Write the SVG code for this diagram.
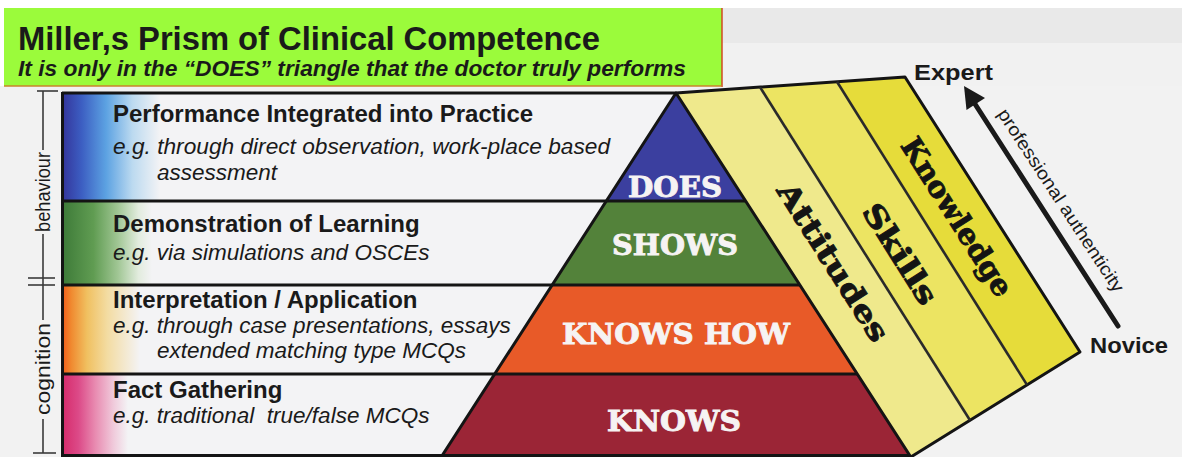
<svg xmlns="http://www.w3.org/2000/svg" width="1182" height="457" viewBox="0 0 1182 457">
  <defs>
    <style>
      .sans { font-family: "Liberation Sans", Arial, sans-serif; fill: #1a1a1a; }
      .head { font-weight: bold; font-size: 24px; }
      .note { font-style: italic; font-size: 22.5px; }
      .tier { font-family: "DejaVu Serif", "Liberation Serif", serif; font-weight: bold; font-size: 27px; fill: #f6f3f3; stroke: #f6f3f3; stroke-width: 0.9; text-anchor: middle; }
      .face { font-family: "DejaVu Serif", "Liberation Serif", serif; font-weight: bold; font-size: 29px; fill: #141414; stroke: #141414; stroke-width: 0.9; text-anchor: middle; }
      .rule { stroke: #141414; stroke-width: 3; fill: none; }
      .bracket { stroke: #3a3a3a; stroke-width: 1.6; fill: none; }
      .divider { stroke: #2a2a2a; stroke-width: 2.6; fill: none; }
    </style>
    <linearGradient id="gBlue" gradientUnits="userSpaceOnUse" x1="62" y1="0" x2="160" y2="0">
      <stop offset="0" stop-color="#34349a"/>
      <stop offset="0.2" stop-color="#3c5ec2"/>
      <stop offset="0.45" stop-color="#5ca2e2"/>
      <stop offset="0.72" stop-color="#bcdaf0"/>
      <stop offset="1" stop-color="#f3f3f5"/>
    </linearGradient>
    <linearGradient id="gGreen" gradientUnits="userSpaceOnUse" x1="62" y1="0" x2="152" y2="0">
      <stop offset="0" stop-color="#3d7a38"/>
      <stop offset="0.35" stop-color="#609c52"/>
      <stop offset="0.62" stop-color="#a0c694"/>
      <stop offset="0.85" stop-color="#e2ecde"/>
      <stop offset="1" stop-color="#f3f3f5"/>
    </linearGradient>
    <linearGradient id="gOrange" gradientUnits="userSpaceOnUse" x1="62" y1="0" x2="140" y2="0">
      <stop offset="0" stop-color="#f05a18"/>
      <stop offset="0.12" stop-color="#f08a30"/>
      <stop offset="0.32" stop-color="#f0c060"/>
      <stop offset="0.58" stop-color="#f3dca2"/>
      <stop offset="1" stop-color="#f3f3f5"/>
    </linearGradient>
    <linearGradient id="gPink" gradientUnits="userSpaceOnUse" x1="62" y1="0" x2="128" y2="0">
      <stop offset="0" stop-color="#d62a6a"/>
      <stop offset="0.25" stop-color="#dc4a88"/>
      <stop offset="0.5" stop-color="#e88ab0"/>
      <stop offset="0.78" stop-color="#f0cadb"/>
      <stop offset="1" stop-color="#f3f3f5"/>
    </linearGradient>
  </defs>

  <!-- page background -->
  <rect x="0" y="0" width="1182" height="457" fill="#ffffff"/>
  <rect x="0" y="86" width="1182" height="371" fill="#f2f2f2"/>
  <rect x="722" y="8" width="460" height="35" fill="#e9e9e9"/>
  <rect x="722" y="43" width="460" height="43" fill="#f1f1f1"/>

  <!-- title banner -->
  <g id="title">
    <rect x="4" y="8" width="718" height="78" fill="#9bfb3b"/>
    <line x1="722" y1="8" x2="722" y2="87" stroke="#d04a20" stroke-width="1.5"/>
    <line x1="4" y1="86" x2="722" y2="86" stroke="#c8842c" stroke-width="1.5"/>
    <text class="sans" x="18" y="50" font-size="34" font-weight="bold" textLength="582" lengthAdjust="spacingAndGlyphs">Miller,s Prism of Clinical Competence</text>
    <text class="sans" x="18" y="76" font-size="21.5" font-weight="bold" font-style="italic" textLength="668" lengthAdjust="spacingAndGlyphs">It is only in the “DOES” triangle that the doctor truly performs</text>
  </g>

  <!-- assessment rows -->
  <g id="row-performance">
    <polygon points="62,93 676,93 606.3,201 62,201" fill="#f3f3f5"/>
    <rect x="62" y="93" width="100" height="108" fill="url(#gBlue)"/>
    <text class="sans head" x="113" y="122">Performance Integrated into Practice</text>
    <text class="sans note" x="113" y="154" textLength="497" lengthAdjust="spacingAndGlyphs">e.g. through direct observation, work-place based</text>
    <text class="sans note" x="157" y="180">assessment</text>
  </g>
  <g id="row-demonstration">
    <polygon points="62,201 606.3,201 552.2,285 62,285" fill="#f3f3f5"/>
    <rect x="62" y="201" width="92" height="84" fill="url(#gGreen)"/>
    <text class="sans head" x="113" y="232">Demonstration of Learning</text>
    <text class="sans note" x="113" y="260">e.g. via simulations and OSCEs</text>
  </g>
  <g id="row-interpretation">
    <polygon points="62,285 552.2,285 494.8,374 62,374" fill="#f3f3f5"/>
    <rect x="62" y="285" width="80" height="89" fill="url(#gOrange)"/>
    <text class="sans head" x="113" y="308">Interpretation / Application</text>
    <text class="sans note" x="113" y="333">e.g. through case presentations, essays</text>
    <text class="sans note" x="157" y="358">extended matching type MCQs</text>
  </g>
  <g id="row-facts">
    <polygon points="62,374 494.8,374 441.2,457 62,457" fill="#f3f3f5"/>
    <rect x="62" y="374" width="68" height="83" fill="url(#gPink)"/>
    <text class="sans head" x="113" y="398">Fact Gathering</text>
    <text class="sans note" x="113" y="423" xml:space="preserve">e.g. traditional  true/false MCQs</text>
  </g>

  <!-- pyramid tiers -->
  <g id="tier-does">
    <polygon points="676,93 745.7,201 606.3,201" fill="#3b3f9f"/>
    <text class="tier" x="675" y="197" textLength="94" lengthAdjust="spacingAndGlyphs">DOES</text>
  </g>
  <g id="tier-shows">
    <polygon points="606.3,201 745.7,201 799.8,285 552.2,285" fill="#53823a"/>
    <text class="tier" x="675" y="255" textLength="126" lengthAdjust="spacingAndGlyphs">SHOWS</text>
  </g>
  <g id="tier-knows-how">
    <polygon points="552.2,285 799.8,285 857.2,374 494.8,374" fill="#e85a28"/>
    <text class="tier" x="676" y="344" textLength="228" lengthAdjust="spacingAndGlyphs">KNOWS HOW</text>
  </g>
  <g id="tier-knows">
    <polygon points="494.8,374 857.2,374 910.8,457 441.2,457" fill="#9b2536"/>
    <text class="tier" x="674" y="431" textLength="134" lengthAdjust="spacingAndGlyphs">KNOWS</text>
  </g>

  <!-- prism side faces -->
  <g id="face-attitudes">
    <polygon points="676,93 760,87.1 970,420.3 910.8,457" fill="#efe98c"/>
    <text class="face" transform="translate(833,262) rotate(57.6)" x="0" y="10" textLength="182" lengthAdjust="spacingAndGlyphs">Attitudes</text>
  </g>
  <g id="face-skills">
    <polygon points="760,87.1 837,81.75 1027,384.9 970,420.3" fill="#ece462"/>
    <text class="face" transform="translate(900,254) rotate(57.6)" x="0" y="10" textLength="114" lengthAdjust="spacingAndGlyphs">Skills</text>
  </g>
  <g id="face-knowledge">
    <polygon points="837,81.75 905,77 1080,352 1027,384.9" fill="#e6dc3a"/>
    <text class="face" transform="translate(957,217) rotate(57.6)" x="0" y="10" textLength="182" lengthAdjust="spacingAndGlyphs">Knowledge</text>
  </g>

  <!-- outlines and tier boundaries -->
  <g id="outlines">
    <line class="rule" x1="62.5" y1="92" x2="62.5" y2="457"/>
    <line class="rule" x1="62" y1="93" x2="676" y2="93"/>
    <line class="rule" x1="62" y1="201" x2="745.7" y2="201"/>
    <line class="rule" x1="62" y1="285" x2="799.8" y2="285"/>
    <line class="rule" x1="62" y1="374" x2="857.2" y2="374"/>
    <line class="rule" x1="62" y1="455.5" x2="909.8" y2="455.5"/>
    <polyline class="rule" points="441.2,457 676,93 910.8,457" stroke-width="3.5" stroke-linejoin="round"/>
    <polyline class="rule" points="676,93 905,77 1080,352 910.8,457" stroke-linejoin="round"/>
    <line class="divider" x1="760" y1="87.1" x2="970" y2="420.3"/>
    <line class="divider" x1="837" y1="81.75" x2="1027" y2="384.9"/>
  </g>

  <!-- behaviour / cognition scale -->
  <g id="scale">
    <line class="bracket" x1="37" y1="91" x2="58" y2="91"/>
    <line class="bracket" x1="43" y1="91" x2="43" y2="150"/>
    <line class="bracket" x1="43" y1="234" x2="43" y2="320"/>
    <line class="bracket" x1="28" y1="278" x2="55" y2="278"/>
    <line class="bracket" x1="28" y1="285" x2="55" y2="285"/>
    <line class="bracket" x1="43" y1="419" x2="43" y2="453"/>
    <line class="bracket" x1="33" y1="453" x2="56" y2="453"/>
    <text class="sans" transform="translate(43,192) rotate(-90)" x="0" y="7" font-size="20" text-anchor="middle" textLength="80" lengthAdjust="spacingAndGlyphs">behaviour</text>
    <text class="sans" transform="translate(43,369) rotate(-90)" x="0" y="7" font-size="20" text-anchor="middle" textLength="92" lengthAdjust="spacingAndGlyphs">cognition</text>
  </g>

  <!-- novice to expert progression -->
  <g id="connectors">
    <line x1="975" y1="104" x2="1118" y2="326" stroke="#1a1a1a" stroke-width="5" stroke-linecap="round"/>
    <polygon points="964,86 985,98 966.5,110" fill="#1a1a1a"/>
    <text class="sans" transform="translate(1060,201) rotate(56.8)" x="0" y="5" font-size="18" text-anchor="middle" textLength="215" lengthAdjust="spacingAndGlyphs">professional authenticity</text>
  </g>
  <g id="label-expert">
    <text class="sans" x="914" y="80" font-size="22" font-weight="bold" textLength="79" lengthAdjust="spacingAndGlyphs">Expert</text>
  </g>
  <g id="label-novice">
    <text class="sans" x="1090" y="353" font-size="22" font-weight="bold" textLength="78" lengthAdjust="spacingAndGlyphs">Novice</text>
  </g>
</svg>
